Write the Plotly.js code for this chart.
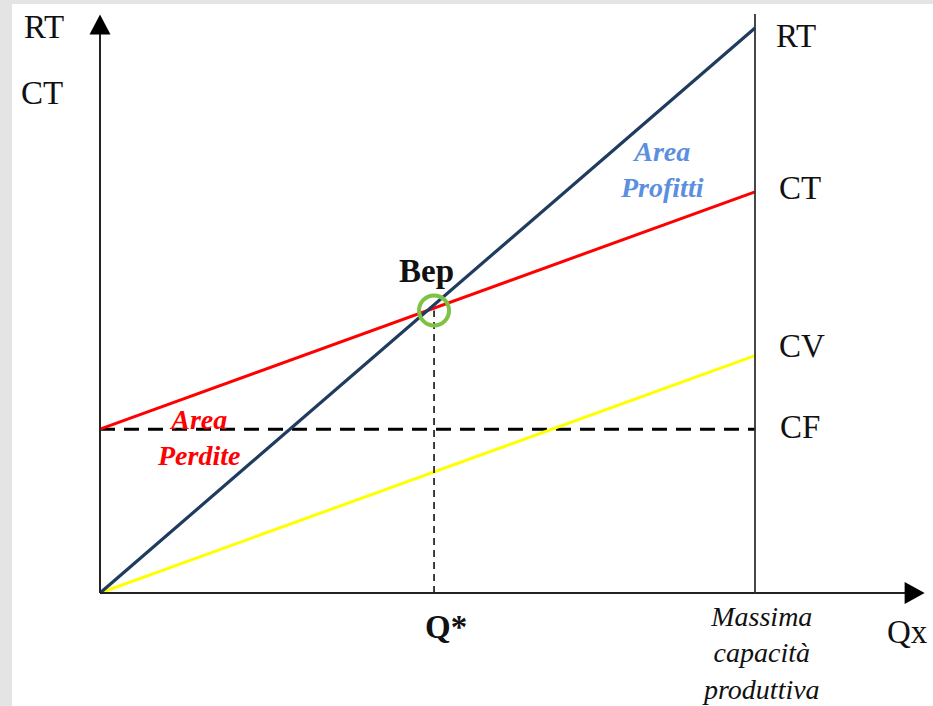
<!DOCTYPE html>
<html>
<head>
<meta charset="utf-8">
<script src="https://cdn.plot.ly/plotly-3.0.1.min.js"></script>
<style>html,body{margin:0;padding:0;background:#fff;}#chart{width:933px;height:706px;}</style>
</head>
<body>
<div id="chart"></div>
<script>
// Quantità prodotte: dall'origine alla massima capacità produttiva
const qx = [0, 100];
// Ricavi totali
const rt = [0, 100];
// Costi totali (CF + CV)
const ct = [29, 71];
// Costi variabili
const cv = [0, 42];
// Costi fissi
const cf = [29, 29];
// Break-even point
const qStar = 51;
const bepValue = 50;
const capacity = 100;

const serif = '"Liberation Serif", "Times New Roman", serif';
const big = 33;

const traces = [
  {x: qx, y: cf, mode: 'lines', line: {color: '#000', width: 3, dash: '15px,9px'}, hoverinfo: 'skip'},
  {x: qx, y: cv, mode: 'lines', line: {color: '#ffff00', width: 3}, hoverinfo: 'skip'},
  {x: qx, y: ct, mode: 'lines', line: {color: '#ff0000', width: 3}, hoverinfo: 'skip'},
  {x: qx, y: rt, mode: 'lines', line: {color: '#1f3b5e', width: 3.2}, hoverinfo: 'skip'},
  {x: [qStar, qStar], y: [0, bepValue], mode: 'lines', line: {color: '#000', width: 1.5, dash: '7px,5px'}, hoverinfo: 'skip'},
  {x: [qStar], y: [bepValue], mode: 'markers', marker: {symbol: 'circle-open', size: 30, color: '#7dc242', line: {width: 4, color: '#7dc242'}}, hoverinfo: 'skip'}
];

// pixel scale helpers for arrowheads (decoration only)
const pxX = 6.55, pxY = 5.65;
const yTip = 102.4, xTip = 125.9;

const shapes = [
  {type: 'rect', xref: 'paper', yref: 'paper', x0: 12/933, x1: 1, y0: 0, y1: 702/706, fillcolor: '#fff', line: {width: 0}, layer: 'below'},
  {type: 'line', x0: 0, y0: 0, x1: 0, y1: yTip - 18/pxY, line: {color: '#222', width: 2}},
  {type: 'line', x0: 0, y0: 0, x1: xTip - 18/pxX, y1: 0, line: {color: '#222', width: 2}},
  {type: 'line', x0: capacity, y0: 0, x1: capacity, y1: 102.5, line: {color: '#333', width: 1.8}},
  {type: 'path', path: `M 0 ${yTip} L ${-10.5/pxX} ${yTip - 20/pxY} L ${10.5/pxX} ${yTip - 20/pxY} Z`, fillcolor: '#000', line: {width: 0}},
  {type: 'path', path: `M ${xTip} 0 L ${xTip - 20/pxX} ${11/pxY} L ${xTip - 20/pxX} ${-11/pxY} Z`, fillcolor: '#000', line: {width: 0}}
];

function lab(text, x, y, opts) {
  return Object.assign({text: text, x: x, y: y, xref: 'x', yref: 'y', showarrow: false,
    xanchor: 'center', yanchor: 'middle', font: {family: serif, size: big, color: '#111'}}, opts || {});
}

const annotations = [
  lab('RT', -8.6, 100.2),
  lab('CT', -8.9, 88.5),
  lab('RT', 106.3, 98.6),
  lab('CT', 106.8, 71.7),
  lab('CV', 107.1, 43.7),
  lab('CF', 106.9, 29.3),
  lab('Qx', 123.3, -6.9),
  lab('<b>Q*</b>', 52.8, -6.1),
  lab('<b>Bep</b>', 49.8, 57.0),
  lab('<b><i>Area<br>Profitti</i></b>', 85.8, 74.9, {font: {family: serif, size: 28, color: '#5b8fe0'}}),
  lab('<b><i>Area<br>Perdite</i></b>', 15.0, 27.6, {font: {family: serif, size: 28, color: '#ff0000'}}),
  lab('<i>Massima<br>capacità<br>produttiva</i>', 100.9, -10.6, {font: {family: serif, size: 28, color: '#111'}})
];

const layout = {
  width: 933, height: 706,
  margin: {l: 0, r: 0, t: 0, b: 0},
  paper_bgcolor: '#e4e4e4',
  plot_bgcolor: 'rgba(0,0,0,0)',
  showlegend: false,
  xaxis: {range: [-100/pxX, -100/pxX + 933/pxX], visible: false, fixedrange: true},
  yaxis: {range: [-113/pxY, 593/pxY], visible: false, fixedrange: true},
  shapes: shapes,
  annotations: annotations
};

Plotly.newPlot('chart', traces, layout, {staticPlot: true, displayModeBar: false});
</script>
</body>
</html>
